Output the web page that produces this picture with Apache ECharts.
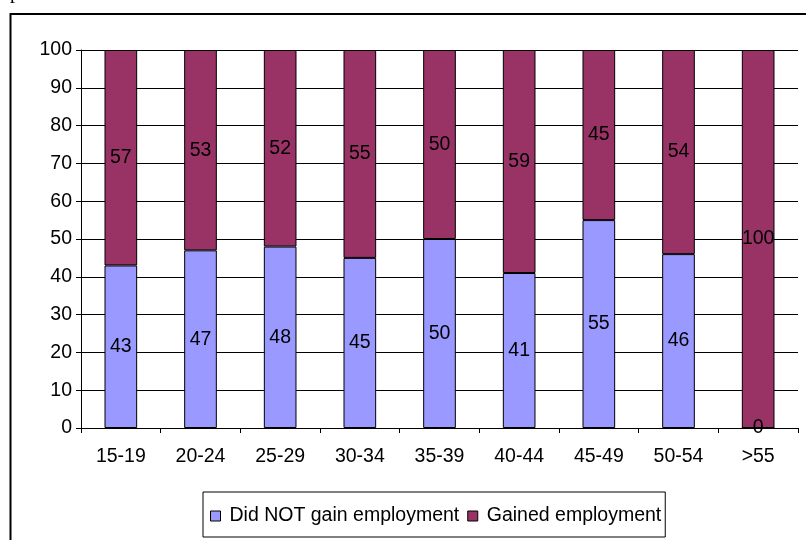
<!DOCTYPE html>
<html>
<head>
<meta charset="utf-8">
<script src="https://cdn.jsdelivr.net/npm/echarts@6/dist/echarts.min.js"></script>
<style>
  html, body { margin: 0; padding: 0; background: #fff; }
  #chart { width: 806px; height: 540px; }
</style>
</head>
<body>
<div id="chart"></div>
<script>
// Age groups and employment outcome shares (%)
const ageGroups = ['15-19', '20-24', '25-29', '30-34', '35-39', '40-44', '45-49', '50-54', '>55'];
const notGained = [43, 47, 48, 45, 50, 41, 55, 46, 0];
const gained = [57, 53, 52, 55, 50, 59, 45, 54, 100];
const yTicks = [0, 10, 20, 30, 40, 50, 60, 70, 80, 90, 100];

const FONT = 'Liberation Sans, Arial, sans-serif';
const FS = 19.5;
const chart = echarts.init(document.getElementById('chart'), null, { renderer: 'canvas' });

const labelStyle = {
  show: true,
  position: 'inside',
  color: '#000',
  fontFamily: FONT,
  fontSize: FS
};

chart.setOption({
  animation: false,
  backgroundColor: '#fff',
  graphic: [
    {
      type: 'rect',
      shape: { x: 10.5, y: 14, width: 810, height: 540 },
      style: { fill: 'none', stroke: '#000', lineWidth: 2 },
      silent: true
    },
    {
      type: 'text',
      x: 10, y: 3,
      style: { text: 'p', font: '20px "Liberation Serif", serif', fill: '#000', verticalAlign: 'bottom' },
      silent: true
    }
  ],
  grid: { left: 81, right: 8, top: 50, bottom: 112, containLabel: false },
  legend: {
    bottom: 3,
    left: 203,
    itemWidth: 10,
    itemHeight: 10,
    itemGap: 8,
    padding: [14, 4, 11, 7],
    borderColor: '#000',
    borderWidth: 1,
    icon: 'rect',
    textStyle: { fontFamily: FONT, fontSize: FS, color: '#000', padding: [0, 0, 0, 4] },
    itemStyle: { borderColor: '#000', borderWidth: 1 },
    data: ['Did NOT gain employment', 'Gained employment']
  },
  xAxis: {
    type: 'category',
    data: ageGroups,
    axisLine: { show: true, lineStyle: { color: '#000', width: 1 } },
    axisTick: { show: true, alignWithLabel: false, length: 5, lineStyle: { color: '#000' } },
    axisLabel: { color: '#000', fontFamily: FONT, fontSize: FS, margin: 19 },
    splitLine: { show: false }
  },
  yAxis: {
    type: 'value',
    min: yTicks[0],
    max: yTicks[yTicks.length - 1],
    interval: 10,
    axisLine: { show: true, lineStyle: { color: '#000', width: 1 } },
    axisTick: { show: true, length: 5, lineStyle: { color: '#000' } },
    axisLabel: { color: '#000', fontFamily: FONT, fontSize: FS, margin: 9 },
    splitLine: { show: true, lineStyle: { color: '#000', width: 1 } }
  },
  series: [
    {
      name: 'Did NOT gain employment',
      type: 'bar',
      stack: 'total',
      data: notGained,
      barWidth: '41%',
      itemStyle: { color: '#9999FF', borderColor: '#000', borderWidth: 1 },
      label: labelStyle
    },
    {
      name: 'Gained employment',
      type: 'bar',
      stack: 'total',
      data: gained,
      barWidth: '41%',
      itemStyle: { color: '#993366', borderColor: '#000', borderWidth: 1 },
      label: labelStyle
    }
  ]
});
</script>
</body>
</html>
